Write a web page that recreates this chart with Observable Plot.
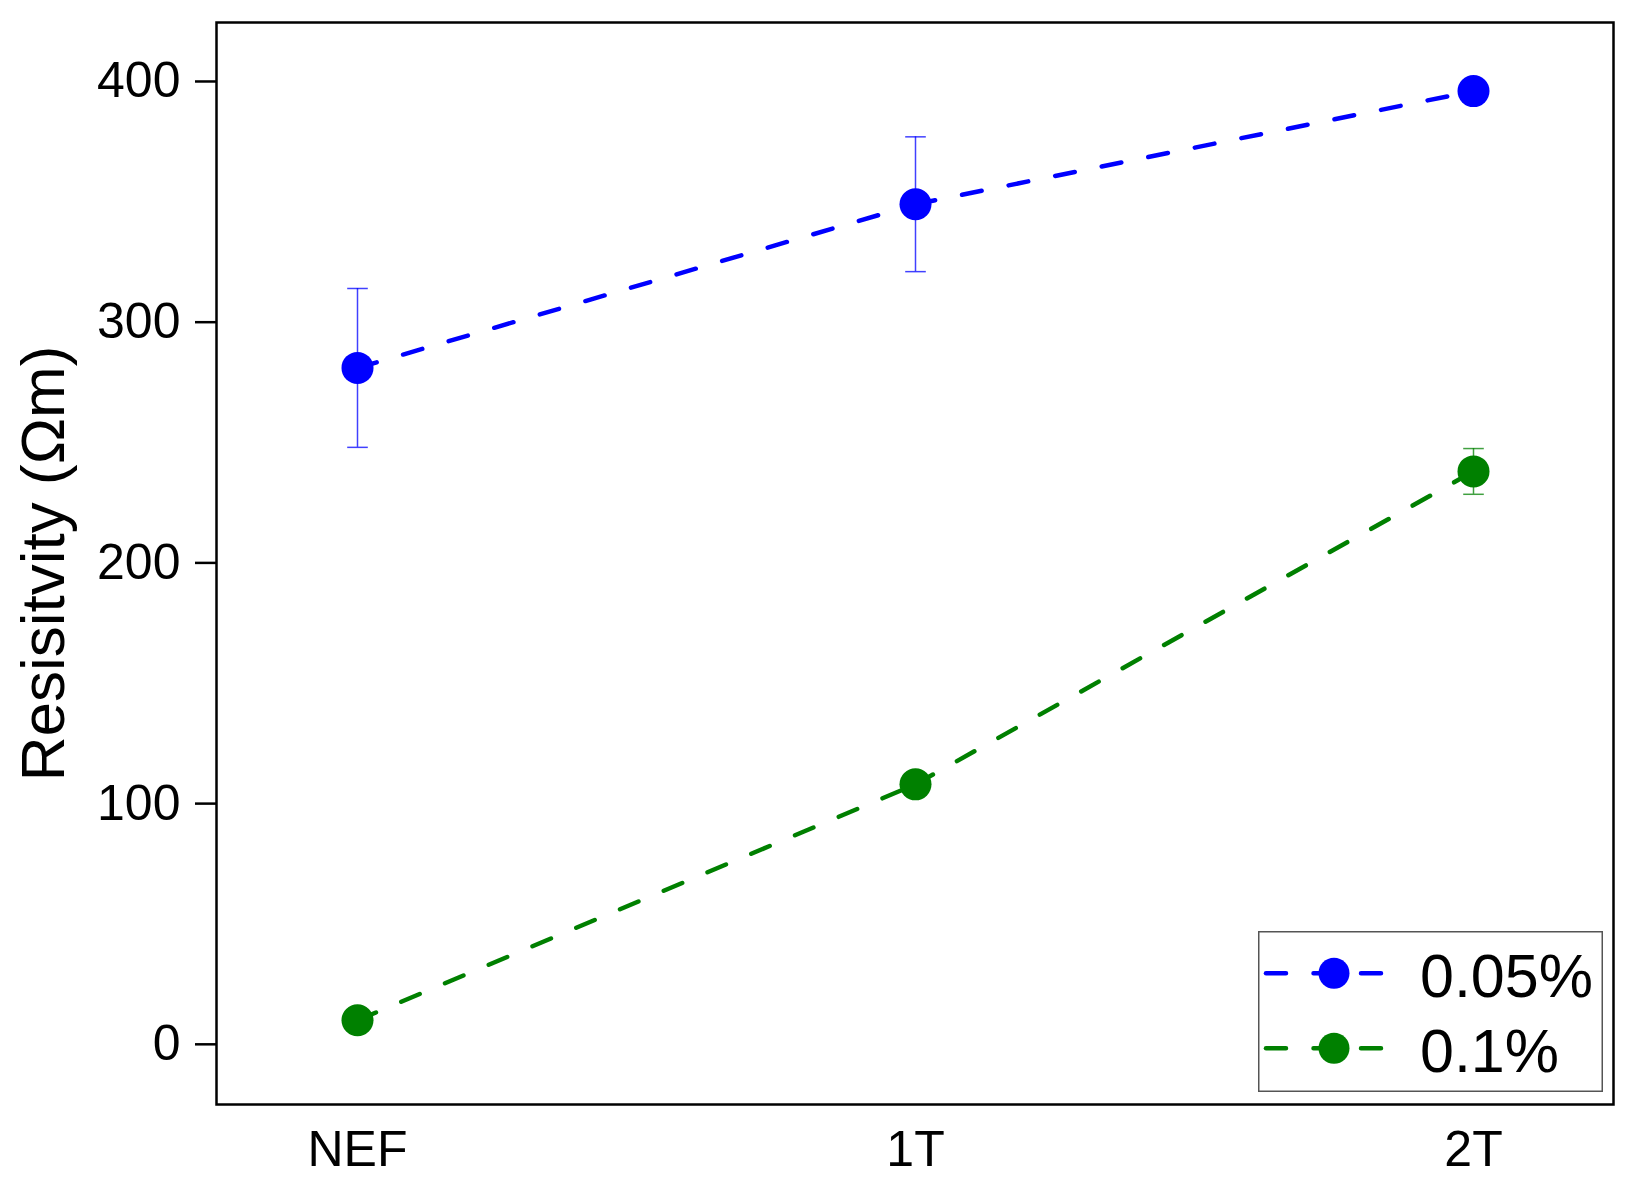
<!DOCTYPE html>
<html><head><meta charset="utf-8">
<script src="https://cdn.jsdelivr.net/npm/d3@7"></script>
<script src="https://cdn.jsdelivr.net/npm/@observablehq/plot@0.6"></script>
<style>
html,body{margin:0;padding:0;background:#fff;overflow:hidden}
#wrap{position:relative;width:1635px;height:1188px}
#legend{position:absolute;left:1258px;top:931px}
</style>
</head><body><div id="wrap"></div>
<script>
// ---- data ----
const categories = ["NEF", "1T", "2T"];
const seriesNames = ["0.05%", "0.1%"];
const seriesColors = ["#0000ff", "#008000"];
const values005 = [281, 349, 396];
const errors005 = [33, 28, 0];
const values01 = [10, 108, 238];
const errors01 = [0, 0, 9.5];
const yTicks = [0, 100, 200, 300, 400];
const yLabel = "Resisitvity (Ωm)";

const seriesValues = [values005, values01];
const seriesErrors = [errors005, errors01];

const points = [];
const segs = [];
seriesNames.forEach((s, k) => {
  categories.forEach((c, i) => {
    points.push({series: s, cat: c, v: seriesValues[k][i], e: seriesErrors[k][i]});
    if (i < categories.length - 1) {
      segs.push({series: s, x1: c, y1: seriesValues[k][i], x2: categories[i + 1], y2: seriesValues[k][i + 1]});
    }
  });
});
const errPts = points.filter(d => d.e > 0);

const capSymbol = {
  draw(ctx, size) {
    const w = Math.sqrt(size / Math.PI);
    ctx.moveTo(-w, 0);
    ctx.lineTo(w, 0);
  }
};

const font = "'Liberation Sans', Arial, Helvetica, sans-serif";

const chart = Plot.plot({
  width: 1635,
  height: 1188,
  marginLeft: 216,
  marginRight: 22,
  marginTop: 22,
  marginBottom: 84,
  style: {fontFamily: font, fontSize: "50px", color: "black", background: "white", overflow: "visible"},
  x: {type: "point", domain: categories, padding: 0.25, label: null},
  y: {domain: [-25, 424.5], label: null},
  color: {domain: seriesNames, range: seriesColors},
  marks: [
    Plot.axisY({ticks: yTicks, tickSize: 21, tickPadding: 15, strokeWidth: 2.5, label: null}),
    Plot.axisX({tickSize: 0, tickPadding: 26, label: null}),
    Plot.link(segs, {x1: "x1", y1: "y1", x2: "x2", y2: "y2", stroke: "series",
      strokeWidth: 4.5, strokeDasharray: "20,27.5", strokeLinecap: "round"}),
    Plot.ruleX(errPts, {x: "cat", y1: d => d.v - d.e, y2: d => d.v + d.e, stroke: "series", strokeWidth: 1.5, strokeOpacity: 0.75}),
    Plot.dot(errPts, {x: "cat", y: d => d.v - d.e, symbol: capSymbol, r: 10.3, stroke: "series", fill: "none", strokeWidth: 1.5, strokeOpacity: 0.75}),
    Plot.dot(errPts, {x: "cat", y: d => d.v + d.e, symbol: capSymbol, r: 10.3, stroke: "series", fill: "none", strokeWidth: 1.5, strokeOpacity: 0.75}),
    Plot.dot(points, {x: "cat", y: "v", r: 16, fill: "series", stroke: null}),
    Plot.frame({stroke: "black", strokeWidth: 2.5}),
    Plot.text([yLabel], {text: d => d, frameAnchor: "left", textAnchor: "middle", lineAnchor: "middle",
      rotate: -90, dx: -172, dy: 0, fontSize: 62, fill: "black"})
  ]
});
document.getElementById("wrap").appendChild(chart);

// ---- legend (overlay) ----
const legDiv = document.createElement("div");
legDiv.id = "legend";
document.getElementById("wrap").appendChild(legDiv);
const lw = 345, lh = 161;
const lsvg = d3.select(legDiv).append("svg").attr("width", lw).attr("height", lh)
  .style("font-family", font);
lsvg.append("rect").attr("x", 0.75).attr("y", 0.75).attr("width", lw - 1.5).attr("height", lh - 1.5)
  .attr("fill", "white").attr("stroke", "#555").attr("stroke-width", 1.5);
seriesNames.forEach((s, k) => {
  const cy = 42.3 + k * 75;
  const g = lsvg.append("g");
  g.append("line").attr("x1", 8).attr("x2", 123).attr("y1", cy).attr("y2", cy)
    .attr("stroke", seriesColors[k]).attr("stroke-width", 4.5)
    .attr("stroke-dasharray", "20,27.5").attr("stroke-linecap", "round");
  g.append("circle").attr("cx", 76).attr("cy", cy).attr("r", 15.5).attr("fill", seriesColors[k]);
  g.append("text").attr("x", 162).attr("y", cy + 23.5).attr("font-size", 61).attr("fill", "black").text(s);
});
</script>
</body></html>
